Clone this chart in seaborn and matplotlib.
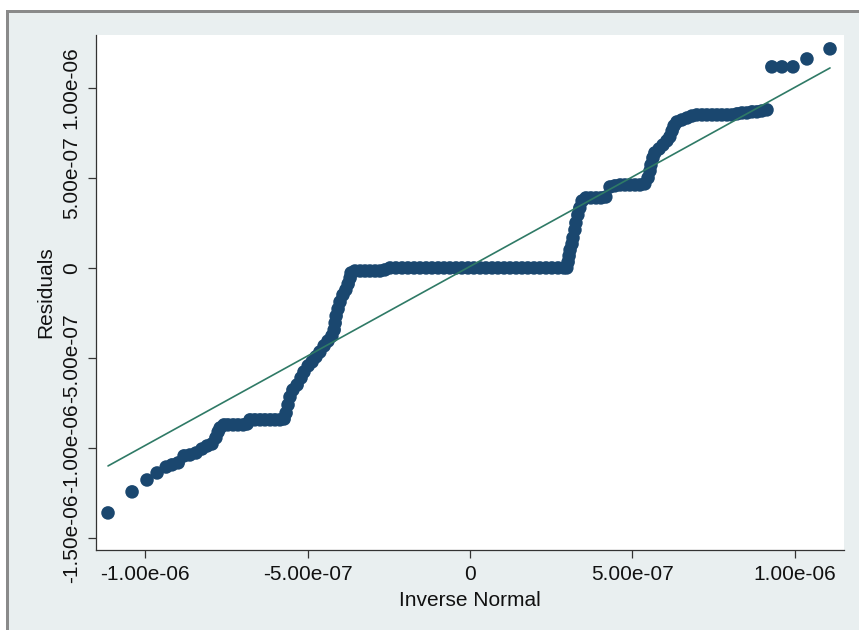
import numpy as np
import pandas as pd
import matplotlib
matplotlib.use("Agg")
import matplotlib.pyplot as plt
import seaborn as sns
from matplotlib.patches import Rectangle

# ---- data (values in units of 1e-7) ----
inv_normal = [
    -11.14, -10.40, -9.94, -9.63, -9.35, -9.17, -8.98, -8.80, -8.62, -8.43, -8.25, -8.09, -7.94,
    -7.82, -7.75, -7.69, -7.57, -7.45, -7.29, -7.14, -6.98, -6.86,
    -6.77, -6.62, -6.46, -6.31, -6.15, -6.00, -5.85, -5.72,
    -5.66, -5.60, -5.54, -5.45, -5.32, -5.20, -5.11, -4.98, -4.86, -4.74, -4.62, -4.49, -4.37,
    -4.25, -4.18, -4.15, -4.12, -4.06, -4.00, -3.91, -3.82, -3.75, -3.69, -3.66,
    -3.54, -3.38, -3.23, -3.08, -2.92, -2.77, -2.62,
    -2.46, -2.28, -2.09, -1.91, -1.72, -1.54, -1.35, -1.17, -0.98, -0.80, -0.62, -0.43, -0.25,
    -0.06, 0.12, 0.31, 0.49, 0.68, 0.86, 1.05, 1.23, 1.42, 1.60, 1.78, 1.97, 2.15, 2.34, 2.52,
    2.71, 2.89, 2.98,
    3.02, 3.05, 3.08, 3.14, 3.17, 3.23, 3.26, 3.32, 3.38, 3.45,
    3.57, 3.72, 3.88, 4.03, 4.18,
    4.31, 4.46, 4.62, 4.77, 4.92, 5.08, 5.23, 5.38,
    5.48, 5.54, 5.57, 5.63, 5.69, 5.82, 5.94, 6.06, 6.15, 6.22, 6.28, 6.37, 6.52, 6.68,
    6.83, 6.98, 7.14, 7.29, 7.45, 7.60, 7.75, 7.91, 8.06, 8.22, 8.37, 8.52, 8.68, 8.83, 8.98, 9.14,
    9.29, 9.60, 9.94, 10.37, 11.08,
]
residuals = [
    -13.61, -12.44, -11.78, -11.39, -11.06, -10.94, -10.83, -10.44, -10.39, -10.28, -10.06, -9.89, -9.78,
    -9.44, -9.11, -8.89, -8.72, -8.72, -8.72, -8.72, -8.72, -8.67,
    -8.44, -8.44, -8.44, -8.44, -8.44, -8.44, -8.44, -8.39,
    -8.06, -7.61, -7.17, -6.78, -6.50, -6.11, -5.78, -5.44, -5.22, -4.94, -4.67, -4.33, -4.06,
    -3.78, -3.44, -3.06, -2.67, -2.28, -1.89, -1.50, -1.22, -0.89, -0.56, -0.28,
    -0.17, -0.17, -0.17, -0.17, -0.17, -0.17, -0.11,
    0.0, 0.0, 0.0, 0.0, 0.0, 0.0, 0.0, 0.0, 0.0, 0.0, 0.0, 0.0, 0.0,
    0.0, 0.0, 0.0, 0.0, 0.0, 0.0, 0.0, 0.0, 0.0, 0.0, 0.0, 0.0, 0.0, 0.0, 0.0,
    0.0, 0.0, 0.0,
    0.33, 0.67, 1.00, 1.33, 1.67, 2.11, 2.50, 2.94, 3.33, 3.72,
    3.89, 3.89, 3.89, 3.89, 3.94,
    4.50, 4.56, 4.61, 4.61, 4.61, 4.61, 4.61, 4.67,
    5.00, 5.39, 5.72, 6.11, 6.39, 6.61, 6.83, 7.06, 7.28, 7.61, 7.89, 8.11, 8.22, 8.33,
    8.44, 8.50, 8.50, 8.50, 8.50, 8.50, 8.50, 8.50, 8.50, 8.56, 8.61, 8.61, 8.67, 8.67, 8.72, 8.78,
    11.17, 11.17, 11.17, 11.61, 12.17,
]
ref_line_x = [-11.14, 11.08]
ref_line_y = [-11.00, 11.11]

x_ticks = [-10.0, -5.0, 0.0, 5.0, 10.0]
x_tick_labels = ["-1.00e-06", "-5.00e-07", "0", "5.00e-07", "1.00e-06"]
y_ticks = [-15.0, -10.0, -5.0, 0.0, 5.0, 10.0]
y_tick_labels = ["-1.50e-06", "-1.00e-06", "-5.00e-07", "0", "5.00e-07", "1.00e-06"]

SCALE = 1e-7
df = pd.DataFrame({"Inverse Normal": np.array(inv_normal) * SCALE,
                   "Residuals": np.array(residuals) * SCALE})
line_df = pd.DataFrame({"x": np.array(ref_line_x) * SCALE, "y": np.array(ref_line_y) * SCALE})

sns.set_theme(style="white")
plt.rcParams["font.family"] = ["Liberation Sans", "DejaVu Sans"]

BG = "#e9eff0"
FS = 15
fig = plt.figure(figsize=(8.59, 6.30), dpi=100)
fig.patch.set_facecolor("white")
# outer graph region and screenshot frame
fig.patches.append(Rectangle((9 / 859, 0), 1, 1 - 12 / 630, transform=fig.transFigure,
                             facecolor=BG, edgecolor="none", zorder=-3))
fig.patches.append(Rectangle((6 / 859, 1 - 13 / 630), 1, 3 / 630, transform=fig.transFigure,
                             facecolor="#8a8a8a", edgecolor="none", zorder=-2))
fig.patches.append(Rectangle((6 / 859, 0), 3 / 859, 1 - 10 / 630, transform=fig.transFigure,
                             facecolor="#8a8a8a", edgecolor="none", zorder=-2))

ax = fig.add_axes([96 / 859, 80 / 630, 748 / 859, 515 / 630])
ax.set_facecolor("white")

sns.scatterplot(data=df, x="Inverse Normal", y="Residuals", ax=ax, color="#1a476f",
                s=95, edgecolor="none", linewidth=0, zorder=2)
sns.lineplot(data=line_df, x="x", y="y", ax=ax, color="#2f7a66", linewidth=1.2,
             zorder=3, estimator=None, sort=False)

ax.set_xlim(-1.151e-6, 1.151e-6)
ax.set_ylim(-1.567e-6, 1.294e-6)
ax.set_xticks(np.array(x_ticks) * SCALE)
ax.set_xticklabels(x_tick_labels, fontsize=FS, color="#111111")
ax.set_yticks(np.array(y_ticks) * SCALE)
ax.set_yticklabels(y_tick_labels, fontsize=FS, color="#111111", rotation=90, va="center")

for s in ["top", "right"]:
    ax.spines[s].set_visible(False)
for s in ["left", "bottom"]:
    ax.spines[s].set_color("#333333")
    ax.spines[s].set_linewidth(0.9)
ax.tick_params(axis="both", direction="out", length=6, width=0.9, color="#333333", pad=5,
               left=True, bottom=True)

ax.set_xlabel("Inverse Normal", fontsize=FS, color="#111111", labelpad=5)
ax.set_ylabel("Residuals", fontsize=FS, color="#111111", labelpad=5)

fig.savefig("out.png", dpi=100, facecolor=fig.get_facecolor())
